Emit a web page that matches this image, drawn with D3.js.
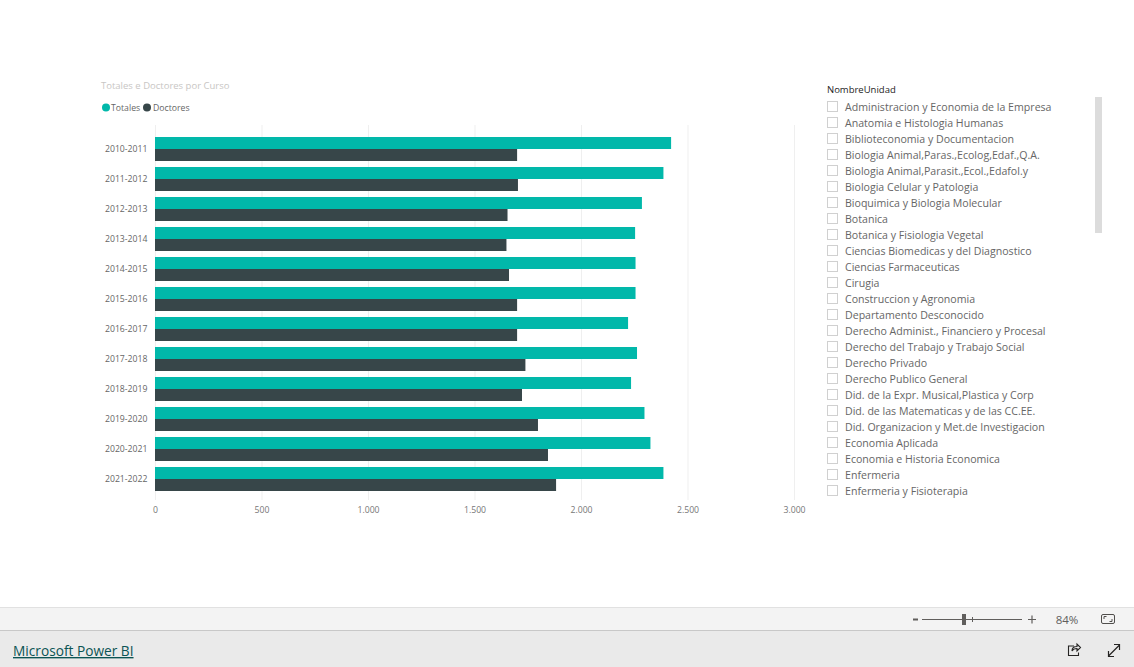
<!DOCTYPE html>
<html><head><meta charset="utf-8">
<script src="https://cdn.jsdelivr.net/npm/d3@7"></script>
<style>
html,body{margin:0;padding:0;background:#fff;overflow:hidden}
svg{display:block}
text{font-family:"Open Sans","Noto Sans",sans-serif}
</style></head><body>
<script>
const cursos = ["2010-2011","2011-2012","2012-2013","2013-2014","2014-2015","2015-2016","2016-2017","2017-2018","2018-2019","2019-2020","2020-2021","2021-2022"];
const totales = [2423,2387,2286,2254,2256,2256,2221,2263,2235,2298,2326,2387];
const doctores = [1700,1704,1655,1650,1662,1700,1700,1739,1723,1798,1845,1883];
const serieNames = ["Totales","Doctores"];
const serieColors = ["#01b8aa","#374649"];
const xTicks = [0,500,1000,1500,2000,2500,3000];
const unidades = ["Administracion y Economia de la Empresa","Anatomia e Histologia Humanas","Biblioteconomia y Documentacion","Biologia Animal,Paras.,Ecolog,Edaf.,Q.A.","Biologia Animal,Parasit.,Ecol.,Edafol.y","Biologia Celular y Patologia","Bioquimica y Biologia Molecular","Botanica","Botanica y Fisiologia Vegetal","Ciencias Biomedicas y del Diagnostico","Ciencias Farmaceuticas","Cirugia","Construccion y Agronomia","Departamento Desconocido","Derecho Administ., Financiero y Procesal","Derecho del Trabajo y Trabajo Social","Derecho Privado","Derecho Publico General","Did. de la Expr. Musical,Plastica y Corp","Did. de las Matematicas y de las CC.EE.","Did. Organizacion y Met.de Investigacion","Economia Aplicada","Economia e Historia Economica","Enfermeria","Enfermeria y Fisioterapia"];

const svg = d3.select("body").append("svg").attr("width",1134).attr("height",667);
const fmt = v => d3.format(",")(v).replace(/,/g,".");

const x = d3.scaleLinear().domain([0,3000]).range([155,794]);
const y = d3.scaleBand().domain(cursos).range([134,494]).paddingInner(0.2).paddingOuter(0.1);
const y2 = d3.scaleBand().domain(serieNames).range([0,y.bandwidth()]);

// title + legend
svg.append("text").attr("x",101).attr("y",89).attr("font-size",9.5).attr("fill","#c8c6c4").text("Totales e Doctores por Curso");
const legendX = [[106,111],[147,153]];
serieNames.forEach((n,i)=>{
  svg.append("circle").attr("cx",legendX[i][0]).attr("cy",107.5).attr("r",4).attr("fill",serieColors[i]);
  svg.append("text").attr("x",legendX[i][1]).attr("y",111).attr("font-size",8.7).attr("fill","#666").text(n);
});

// x axis
const gx = svg.append("g").attr("transform","translate(0,500)")
  .call(d3.axisBottom(x).tickValues(xTicks).tickFormat(fmt).tickSize(-375).tickPadding(7));
gx.select(".domain").remove();
gx.selectAll("line").attr("stroke","#efefef");
gx.selectAll("text").attr("font-size",8.7).attr("fill","#777");

// y labels
const gy = svg.append("g").attr("transform","translate(155,0)").call(d3.axisLeft(y).tickSize(0).tickPadding(7.5));
gy.select(".domain").remove();
gy.selectAll("text").attr("font-size",8.7).attr("fill","#666");

// bars
[totales,doctores].forEach((vals,s)=>{
  svg.append("g").selectAll("rect").data(vals).join("rect")
    .attr("x",x(0)).attr("y",(d,i)=>y(cursos[i])+y2(serieNames[s]))
    .attr("width",d=>x(d)-x(0)).attr("height",y2.bandwidth()).attr("fill",serieColors[s]);
});

// slicer
svg.append("text").attr("x",827).attr("y",93).attr("font-size",9.5).attr("fill","#252423").text("NombreUnidad");
const rowY = d3.scalePoint().domain(unidades).range([107,491]);
const rows = svg.append("g").selectAll("g").data(unidades).join("g").attr("transform",d=>`translate(0,${rowY(d)})`);
rows.append("rect").attr("x",827.5).attr("y",-5.5).attr("width",10).attr("height",10).attr("fill","#fff").attr("stroke","#d0d0d0");
rows.append("text").attr("x",845).attr("y",4).attr("font-size",10.6).attr("fill","#666").text(d=>d);
svg.append("rect").attr("x",1095).attr("y",97).attr("width",7).attr("height",136).attr("fill","#dcdcdc");

// bottom bars
svg.append("rect").attr("x",0).attr("y",607).attr("width",1134).attr("height",23).attr("fill","#f3f3f3");
svg.append("rect").attr("x",0).attr("y",607).attr("width",1134).attr("height",1).attr("fill","#e1e1e1");
svg.append("rect").attr("x",0).attr("y",630).attr("width",1134).attr("height",37).attr("fill","#eaeaea");
svg.append("rect").attr("x",0).attr("y",630).attr("width",1134).attr("height",1).attr("fill","#c8c8c8");
svg.append("text").attr("x",13).attr("y",656).attr("font-size",13.7).attr("font-weight",500).attr("fill","#0b5454").attr("text-decoration","underline").text("Microsoft Power BI");

// zoom control
svg.append("rect").attr("x",913).attr("y",618.5).attr("width",5).attr("height",2).attr("fill","#605e5c");
svg.append("line").attr("x1",922).attr("x2",1022).attr("y1",619.5).attr("y2",619.5).attr("stroke","#605e5c");
svg.append("line").attr("x1",972.5).attr("x2",972.5).attr("y1",617).attr("y2",622).attr("stroke","#605e5c");
svg.append("rect").attr("x",962).attr("y",614).attr("width",4).attr("height",11).attr("fill","#605e5c");
svg.append("path").attr("d","M1028 619.5h8M1032 615.500v8").attr("fill","none").attr("stroke","#605e5c").attr("stroke-width",1.2);
svg.append("text").attr("x",1067).attr("y",623.5).attr("text-anchor","middle").attr("font-size",11.5).attr("fill","#605e5c").text("84%");
svg.append("rect").attr("x",1101.5).attr("y",614.5).attr("width",13).attr("height",9).attr("rx",1.5).attr("fill","none").attr("stroke","#504e4c");
svg.append("path").attr("d","M1104 619v-2.5h2.5M1112 619v2.5h-2.5").attr("fill","none").attr("stroke","#504e4c");

// share + expand icons
svg.append("path").attr("d","M1074 646h-5.500v9.500h10v-3M1072 651c0-3 2-4.500 5-4.500v-2.500l3.500 3.500-3.500 3.500v-2.500c-2 0-4 0.500-5 2.500z").attr("fill","none").attr("stroke","#252423").attr("stroke-width",1.1);
svg.append("path").attr("d","M1108.500 656l11-11M1114 644.500h5.500v5.500M1108.500 651v5.500h5.500").attr("fill","none").attr("stroke","#252423").attr("stroke-width",1.2);
</script>
</body></html>
